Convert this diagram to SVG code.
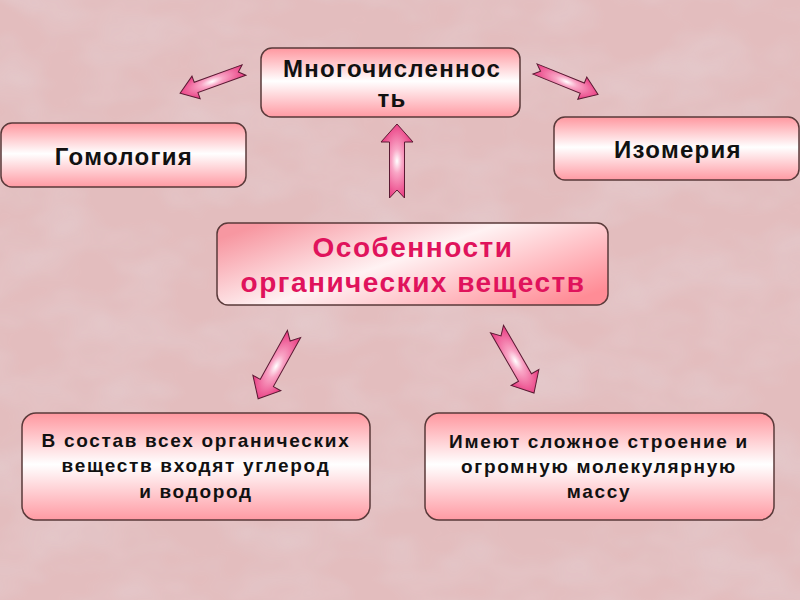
<svg xmlns="http://www.w3.org/2000/svg" width="800" height="600" viewBox="0 0 800 600">
  <defs>
    <filter id="mottle" x="0" y="0" width="100%" height="100%">
      <feTurbulence type="fractalNoise" baseFrequency="0.012 0.02" numOctaves="3" seed="7" result="n"/>
      <feColorMatrix in="n" type="matrix" values="0 0 0 0 0.78  0 0 0 0 0.60  0 0 0 0 0.62  0 0 0 1.6 -0.55" result="c"/>
      <feComposite in="c" in2="SourceGraphic" operator="in"/>
    </filter>
    <linearGradient id="boxV" x1="0" y1="0" x2="0" y2="1">
      <stop offset="0" stop-color="#ff979f"/>
      <stop offset="0.48" stop-color="#ffffff"/>
      <stop offset="1" stop-color="#ff9aa3"/>
    </linearGradient>
    <linearGradient id="boxC" x1="0" y1="0.2" x2="1" y2="0.8">
      <stop offset="0" stop-color="#f797a1"/>
      <stop offset="0.45" stop-color="#fff2f3"/>
      <stop offset="1" stop-color="#ff8c96"/>
    </linearGradient>
    <radialGradient id="arrG" cx="0.5" cy="0.5" r="0.55">
      <stop offset="0" stop-color="#ffffff"/>
      <stop offset="0.3" stop-color="#f9a6c6"/>
      <stop offset="1" stop-color="#e8337c"/>
    </radialGradient>
    <path id="arrS" d="M0,-5.5 L51,-5.5 L51,-12 L68,0 L51,12 L51,5.5 L0,5.5 L6,0 Z"/>
    <path id="arrL" d="M0,-7.5 L56,-7.5 L56,-16 L74,0 L56,16 L56,7.5 L0,7.5 L8,0 Z"/>
    <style>
      .box { fill: url(#boxV); stroke: #5a3a3a; stroke-width: 1.5; }
      .boxc { fill: url(#boxC); stroke: #5a3a3a; stroke-width: 1.5; }
      .arrow { fill: url(#arrG); stroke: #5a1a33; stroke-width: 1; }
      text { font-family: "Liberation Sans", Arial, sans-serif; font-weight: bold; text-anchor: middle; }
      .t24 { font-size: 24px; letter-spacing: 1.3px; fill: #111; }
      .t18 { font-size: 19px; letter-spacing: 1.7px; fill: #111; }
      .tc { font-size: 28px; letter-spacing: 1.5px; fill: #e0135c; }
    </style>
  </defs>

  <rect x="0" y="0" width="800" height="600" fill="#e3bdbe"/>
  <rect x="0" y="0" width="800" height="600" fill="#e3bdbe" filter="url(#mottle)" opacity="0.9"/>

  <g id="connectors">
    <use href="#arrS" class="arrow" transform="translate(244,70) rotate(160)"/>
    <use href="#arrS" class="arrow" transform="translate(535,69) rotate(22)"/>
    <use href="#arrL" class="arrow" transform="translate(397,198) rotate(-90)"/>
    <use href="#arrL" class="arrow" transform="translate(294,334) rotate(119)"/>
    <use href="#arrL" class="arrow" transform="translate(497,329) rotate(60)"/>
  </g>

  <g id="node-mnogo">
    <rect class="box" x="261" y="48" width="259" height="69" rx="11"/>
    <text class="t24" x="392" y="77">Многочисленнос</text>
    <text class="t24" x="392" y="107">ть</text>
  </g>

  <g id="node-gomologiya">
    <rect class="box" x="1" y="123" width="245" height="64" rx="11"/>
    <text class="t24" x="124" y="165">Гомология</text>
  </g>

  <g id="node-izomeriya">
    <rect class="box" x="554" y="117" width="245" height="63" rx="11"/>
    <text class="t24" x="678" y="158">Изомерия</text>
  </g>

  <g id="node-center">
    <rect class="boxc" x="217" y="223" width="391" height="82" rx="11"/>
    <text class="tc" x="413" y="257">Особенности</text>
    <text class="tc" x="413" y="292">органических веществ</text>
  </g>

  <g id="node-sostav">
    <rect class="box" x="22" y="413" width="348" height="107" rx="14"/>
    <text class="t18" x="196" y="447">В состав всех органических</text>
    <text class="t18" x="196" y="472">веществ входят углерод</text>
    <text class="t18" x="196" y="498">и водород</text>
  </g>

  <g id="node-stroenie">
    <rect class="box" x="425" y="413" width="349" height="107" rx="14"/>
    <text class="t18" x="599" y="448">Имеют сложное строение и</text>
    <text class="t18" x="599" y="473">огромную молекулярную</text>
    <text class="t18" x="599" y="498">массу</text>
  </g>
</svg>
